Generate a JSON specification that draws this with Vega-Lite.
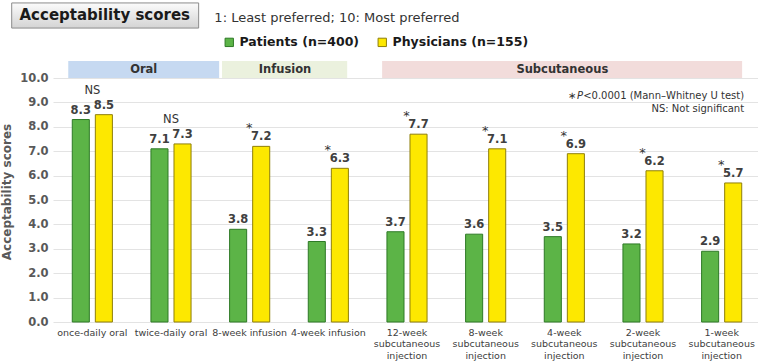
{
  "$schema": "https://vega.github.io/schema/vega-lite/v6.json",
  "width": 708,
  "height": 261,
  "padding": {"left": 0, "top": 2, "right": 0, "bottom": 8},
  "config": {"font": "DejaVu Sans", "view": {"stroke": null}},
  "datasets": {
    "scores": [
      {"category": "once-daily oral", "group": "Patients (n=400)", "score": 8.3, "sig": "NS"},
      {"category": "once-daily oral", "group": "Physicians (n=155)", "score": 8.5, "sig": "NS"},
      {"category": "twice-daily oral", "group": "Patients (n=400)", "score": 7.1, "sig": "NS"},
      {"category": "twice-daily oral", "group": "Physicians (n=155)", "score": 7.3, "sig": "NS"},
      {"category": "8-week infusion", "group": "Patients (n=400)", "score": 3.8, "sig": "*"},
      {"category": "8-week infusion", "group": "Physicians (n=155)", "score": 7.2, "sig": "*"},
      {"category": "4-week infusion", "group": "Patients (n=400)", "score": 3.3, "sig": "*"},
      {"category": "4-week infusion", "group": "Physicians (n=155)", "score": 6.3, "sig": "*"},
      {"category": "12-week subcutaneous injection", "group": "Patients (n=400)", "score": 3.7, "sig": "*"},
      {"category": "12-week subcutaneous injection", "group": "Physicians (n=155)", "score": 7.7, "sig": "*"},
      {"category": "8-week subcutaneous injection", "group": "Patients (n=400)", "score": 3.6, "sig": "*"},
      {"category": "8-week subcutaneous injection", "group": "Physicians (n=155)", "score": 7.1, "sig": "*"},
      {"category": "4-week subcutaneous injection", "group": "Patients (n=400)", "score": 3.5, "sig": "*"},
      {"category": "4-week subcutaneous injection", "group": "Physicians (n=155)", "score": 6.9, "sig": "*"},
      {"category": "2-week subcutaneous injection", "group": "Patients (n=400)", "score": 3.2, "sig": "*"},
      {"category": "2-week subcutaneous injection", "group": "Physicians (n=155)", "score": 6.2, "sig": "*"},
      {"category": "1-week subcutaneous injection", "group": "Patients (n=400)", "score": 2.9, "sig": "*"},
      {"category": "1-week subcutaneous injection", "group": "Physicians (n=155)", "score": 5.7, "sig": "*"}
    ]
  },
  "layer": [
    {
      "data": {"name": "scores"},
      "mark": {"type": "bar", "strokeWidth": 1},
      "encoding": {
        "x": {
          "field": "category", "type": "nominal", "sort": null,
          "scale": {
            "domain": ["once-daily oral", "twice-daily oral", "8-week infusion", "4-week infusion", "12-week subcutaneous injection", "8-week subcutaneous injection", "4-week subcutaneous injection", "2-week subcutaneous injection", "1-week subcutaneous injection"],
            "paddingInner": 0.49, "paddingOuter": 0.245
          },
          "axis": {
            "title": null, "domain": false, "ticks": false, "labelAngle": 0,
            "labelFontSize": 9.5, "labelColor": "#404040", "labelPadding": 5, "labelLineHeight": 11.5,
            "labelExpr": "indexof(datum.label, 'subcutaneous') >= 0 ? [split(datum.label, ' ')[0], 'subcutaneous', 'injection'] : datum.label"
          }
        },
        "xOffset": {"field": "group", "type": "nominal", "scale": {"domain": ["Patients (n=400)", "Physicians (n=155)"], "paddingInner": 0.26, "paddingOuter": 0}},
        "y": {
          "field": "score", "type": "quantitative",
          "scale": {"domain": [0, 10.7], "nice": false},
          "axis": {
            "values": [0, 1, 2, 3, 4, 5, 6, 7, 8, 9, 10], "tickCount": 11, "format": ".1f", "labelOverlap": false,
            "labelFontSize": 11.5, "labelFontWeight": "bold", "labelColor": "#595959", "labelPadding": 5,
            "domain": false, "ticks": false, "gridColor": "#e3e3e3",
            "title": "Acceptability scores", "titleFontSize": 12, "titleFontWeight": "bold", "titleColor": "#595959", "titlePadding": 6
          }
        },
        "color": {
          "field": "group", "type": "nominal",
          "scale": {"domain": ["Patients (n=400)", "Physicians (n=155)"], "range": ["#5cb447", "#fde800"]},
          "legend": {
            "orient": "none", "legendX": 170, "legendY": -25, "direction": "horizontal", "title": null,
            "labelFontSize": 12.5, "labelFontWeight": "bold", "labelColor": "#1a1a1a", "labelOffset": 4,
            "symbolType": "square", "symbolSize": 70, "symbolStrokeWidth": 1, "symbolStrokeColor": "#555555", "columnPadding": 16
          }
        },
        "stroke": {
          "field": "group", "type": "nominal",
          "scale": {"domain": ["Patients (n=400)", "Physicians (n=155)"], "range": ["#2e7a26", "#8f7f0a"]},
          "legend": null
        }
      }
    },
    {
      "data": {"name": "scores"},
      "mark": {"type": "text", "baseline": "bottom", "dy": -4, "fontSize": 11.5, "fontWeight": "bold", "color": "#404040"},
      "encoding": {
        "x": {"field": "category", "type": "nominal", "sort": null},
        "xOffset": {"field": "group", "type": "nominal"},
        "y": {"field": "score", "type": "quantitative"},
        "text": {"field": "score", "type": "quantitative", "format": ".1f"}
      }
    },
    {
      "data": {"name": "scores"},
      "transform": [{"filter": "datum.sig == 'NS' && datum.group == 'Physicians (n=155)'"}],
      "mark": {"type": "text", "baseline": "middle", "dy": -24, "fontSize": 11.5, "color": "#333333"},
      "encoding": {
        "x": {"field": "category", "type": "nominal", "sort": null},
        "y": {"field": "score", "type": "quantitative"},
        "text": {"field": "sig"}
      }
    },
    {
      "data": {"name": "scores"},
      "transform": [{"filter": "datum.sig == '*' && datum.group == 'Physicians (n=155)'"}],
      "mark": {"type": "text", "baseline": "middle", "dy": -18, "dx": -12, "fontSize": 13, "color": "#333333"},
      "encoding": {
        "x": {"field": "category", "type": "nominal", "sort": null},
        "xOffset": {"field": "group", "type": "nominal"},
        "y": {"field": "score", "type": "quantitative"},
        "text": {"field": "sig"}
      }
    },
    {
      "data": {"values": [{"a": "once-daily oral", "b": "twice-daily oral", "name": "Oral"}]},
      "layer": [
        {"mark": {"type": "rect", "color": "#c6d9f1"},
         "encoding": {"x": {"field": "a", "type": "nominal", "bandPosition": -0.1}, "x2": {"field": "b", "bandPosition": 1.7}, "y": {"datum": 10.0, "type": "quantitative"}, "y2": {"datum": 10.7}}},
        {"mark": {"type": "text", "fontSize": 11.5, "fontWeight": "bold", "color": "#333333"},
         "encoding": {"x": {"field": "b", "type": "nominal", "bandPosition": -0.18}, "y": {"datum": 10.35, "type": "quantitative"}, "text": {"field": "name"}}}
      ]
    },
    {
      "data": {"values": [{"a": "8-week infusion", "b": "4-week infusion", "name": "Infusion"}]},
      "layer": [
        {"mark": {"type": "rect", "color": "#ebf1de"},
         "encoding": {"x": {"field": "a", "type": "nominal", "bandPosition": -0.19}, "x2": {"field": "b", "bandPosition": 0.97}, "y": {"datum": 10.0, "type": "quantitative"}, "y2": {"datum": 10.7}}},
        {"mark": {"type": "text", "fontSize": 11.5, "fontWeight": "bold", "color": "#333333"},
         "encoding": {"x": {"field": "b", "type": "nominal", "bandPosition": -0.58}, "y": {"datum": 10.35, "type": "quantitative"}, "text": {"field": "name"}}}
      ]
    },
    {
      "data": {"values": [{"a": "12-week subcutaneous injection", "b": "1-week subcutaneous injection", "m": "4-week subcutaneous injection", "name": "Subcutaneous"}]},
      "layer": [
        {"mark": {"type": "rect", "color": "#f2dcdb"},
         "encoding": {"x": {"field": "a", "type": "nominal", "bandPosition": -0.12}, "x2": {"field": "b", "bandPosition": 1.01}, "y": {"datum": 10.0, "type": "quantitative"}, "y2": {"datum": 10.7}}},
        {"mark": {"type": "text", "fontSize": 11.5, "fontWeight": "bold", "color": "#333333"},
         "encoding": {"x": {"field": "m", "type": "nominal", "bandPosition": 0.45}, "y": {"datum": 10.35, "type": "quantitative"}, "text": {"field": "name"}}}
      ]
    },
    {
      "data": {"values": [
        {"c": "1-week subcutaneous injection", "v": 9.27, "t": "<0.0001 (Mann–Whitney U test)"},
        {"c": "1-week subcutaneous injection", "v": 8.73, "t": "NS: Not significant"}
      ]},
      "mark": {"type": "text", "align": "right", "baseline": "middle", "fontSize": 10, "color": "#333333"},
      "encoding": {
        "x": {"field": "c", "type": "nominal", "bandPosition": 1.06},
        "y": {"field": "v", "type": "quantitative"},
        "text": {"field": "t"}
      }
    },
    {
      "data": {"values": [{"c": "1-week subcutaneous injection", "v": 9.27, "t": "P"}]},
      "mark": {"type": "text", "align": "right", "baseline": "middle", "fontSize": 10, "fontStyle": "italic", "color": "#333333", "dx": -161},
      "encoding": {
        "x": {"field": "c", "type": "nominal", "bandPosition": 1.06},
        "y": {"field": "v", "type": "quantitative"},
        "text": {"field": "t"}
      }
    },
    {
      "data": {"values": [{"c": "1-week subcutaneous injection", "v": 9.27, "t": "∗"}]},
      "mark": {"type": "text", "align": "right", "baseline": "middle", "fontSize": 10, "color": "#333333", "dx": -168},
      "encoding": {
        "x": {"field": "c", "type": "nominal", "bandPosition": 1.06},
        "y": {"field": "v", "type": "quantitative"},
        "text": {"field": "t"}
      }
    },
    {
      "data": {"values": [{"a": "once-daily oral", "v1": 12.05, "v2": 13.08}]},
      "mark": {"type": "rect", "stroke": "#8c8c8c", "strokeWidth": 1,
        "fill": {"gradient": "linear", "x1": 0, "y1": 0, "x2": 0, "y2": 1, "stops": [{"offset": 0, "color": "#fbfbfb"}, {"offset": 1, "color": "#d4d4d4"}]}},
      "encoding": {
        "x": {"field": "a", "type": "nominal", "bandPosition": -1.51},
        "x2": {"field": "a", "bandPosition": 3.15},
        "y": {"field": "v1", "type": "quantitative"},
        "y2": {"field": "v2"}
      }
    },
    {
      "data": {"values": [{"c": "once-daily oral", "v": 12.57, "t": "Acceptability scores"}]},
      "mark": {"type": "text", "align": "center", "baseline": "middle", "fontSize": 15, "fontWeight": "bold", "color": "#1a1a1a"},
      "encoding": {
        "x": {"field": "c", "type": "nominal", "bandPosition": 0.81},
        "y": {"field": "v", "type": "quantitative"},
        "text": {"field": "t"}
      }
    },
    {
      "data": {"values": [{"c": "8-week infusion", "v": 12.46, "t": "1: Least preferred; 10: Most preferred"}]},
      "mark": {"type": "text", "align": "left", "baseline": "middle", "fontSize": 13, "color": "#333333"},
      "encoding": {
        "x": {"field": "c", "type": "nominal", "bandPosition": -0.38},
        "y": {"field": "v", "type": "quantitative"},
        "text": {"field": "t"}
      }
    }
  ]
}
